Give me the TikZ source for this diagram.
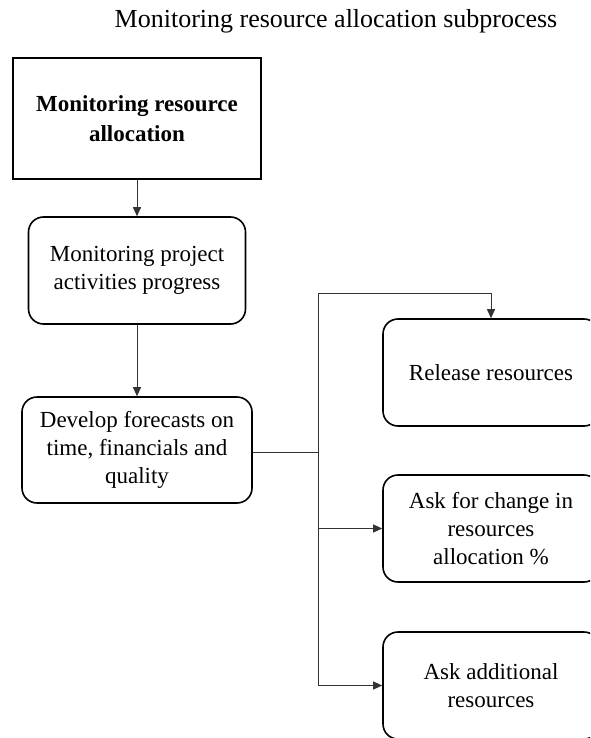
\documentclass[tikz,border=0pt]{standalone}
\usepackage{fontspec}
\setmainfont{Liberation Serif}
\usetikzlibrary{arrows.meta}
\begin{document}
\begin{tikzpicture}[x=1pt,y=-1pt,
  every node/.style={font=\fontsize{23}{28}\selectfont, align=center, inner sep=0pt},
  mainbox/.style={draw=black, line width=1.6pt, minimum width=248pt, minimum height=121pt},
  stepbox/.style={draw=black, line width=1.6pt, rounded corners=15pt},
  conn/.style={draw=black!80, line width=0.9pt},
  arr/.style={conn, -{Triangle[length=9pt,width=8pt]}}
]
\useasboundingbox (0,0) rectangle (590,738);
\clip (0,0) rectangle (590,738);

% title
\node[font=\fontsize{26}{30}\selectfont] (title) at (336,21) {Monitoring resource allocation subprocess};

% left column
\node[mainbox, font=\fontsize{23}{30}\selectfont\bfseries] (alloc) at (137,118.5)
  {Monitoring resource\\allocation};
\node[stepbox, minimum width=217pt, minimum height=107pt] (progress) at (137,270.5)
  {Monitoring project\\activities progress};
\node[stepbox, minimum width=230pt, minimum height=106pt] (forecast) at (137,450)
  {Develop forecasts on\\time, financials and\\quality};

% right column
\node[stepbox, minimum width=216pt, minimum height=107pt] (release) at (491,372.5)
  {Release resources};
\node[stepbox, minimum width=216pt, minimum height=107pt] (change) at (491,528.5)
  {Ask for change in\\resources\\allocation \%};
\node[stepbox, minimum width=216pt, minimum height=107pt] (additional) at (491,685.5)
  {Ask additional\\resources};

% connectors
\draw[arr] (alloc.south) -- (progress.north);
\draw[arr] (progress.south) -- (forecast.north);

\coordinate (split) at (318,452);
\coordinate (splittop) at (318,293);
\draw[conn] (forecast.east |- split) -- (split);
\draw[arr] (split) -- (splittop) -| (release.north);
\draw[arr] (split) |- (change.west);
\draw[arr] (split) |- (additional.west);
\end{tikzpicture}
\end{document}
